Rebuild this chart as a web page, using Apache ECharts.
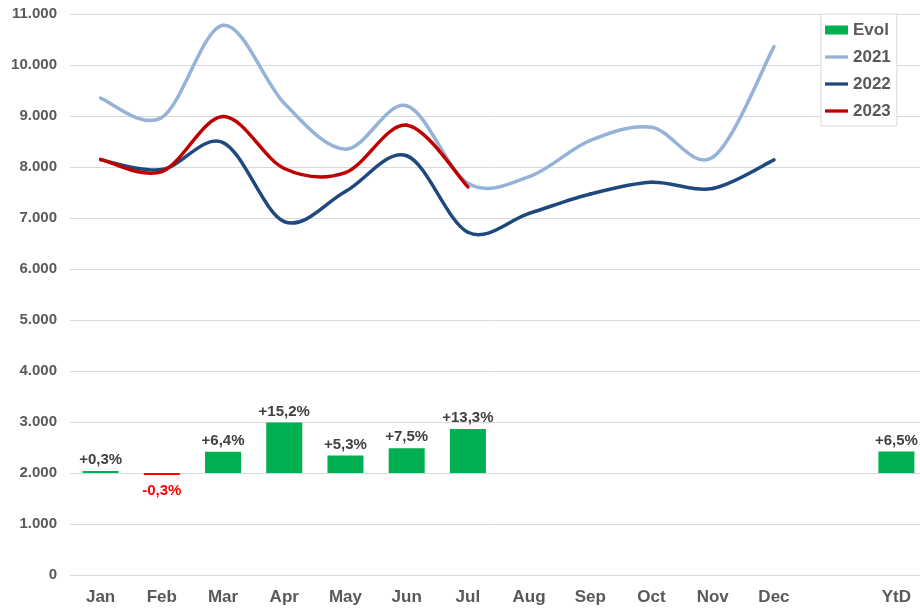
<!DOCTYPE html>
<html>
<head>
<meta charset="utf-8">
<script src="https://cdn.jsdelivr.net/npm/echarts@6/dist/echarts.min.js"></script>
<style>html,body{margin:0;padding:0;background:#fff}#c{width:920px;height:608px}</style>
</head>
<body>
<div id="c"></div>
<script>
var categories = ['Jan','Feb','Mar','Apr','May','Jun','Jul','Aug','Sep','Oct','Nov','Dec','','YtD'];
var values2021 = [9350, 8970, 10780, 9250, 8350, 9200, 7680, 7810, 8520, 8780, 8190, 10360];
var values2022 = [8140, 7950, 8480, 6930, 7520, 8220, 6720, 7090, 7470, 7700, 7580, 8140];
var values2023 = [8150, 7910, 8990, 7970, 7890, 8820, 7610];
// Evol in %, null where no bar; last entry is YtD
var evolPct = [0.3, -0.3, 6.4, 15.2, 5.3, 7.5, 13.3, null, null, null, null, null, null, 6.5];
var evolBase = 2000;     // bars float from this level
var evolScale = 65;      // axis units per percentage point

var FONT = "'Liberation Sans', Arial, sans-serif";
var TXT = '#595959';

var baseData = evolPct.map(function (v) { return v === null ? null : evolBase; });
var evolData = evolPct.map(function (v) {
  if (v === null) return null;
  var neg = v < 0;
  return {
    value: v * evolScale,
    itemStyle: { color: neg ? '#FF0000' : '#00B050' },
    label: {
      position: neg ? 'bottom' : 'top',
      color: neg ? '#FF0000' : '#404040',
      distance: neg ? 8 : 3.5
    }
  };
});
function fmtPct(v) {
  return (v >= 0 ? '+' : '-') + Math.abs(v).toFixed(1).replace('.', ',') + '%';
}

// Smooth line (Excel-like Catmull-Rom) drawn through the chart's own coordinate system
function smoothLineSeries(name, values, color, z) {
  return {
    name: name,
    type: 'custom',
    z: z,
    itemStyle: { color: color },
    encode: { x: 0, y: 1 },
    data: values.map(function (v, i) { return [i, v]; }),
    renderItem: function (params, api) {
      if (params.dataIndex !== 0) return null;
      var pts = values.map(function (v, i) { return api.coord([i, v]); });
      var children = [];
      for (var i = 0; i < pts.length - 1; i++) {
        var p0 = pts[i - 1] || pts[i];
        var p1 = pts[i];
        var p2 = pts[i + 1];
        var p3 = pts[i + 2] || pts[i + 1];
        children.push({
          type: 'bezierCurve',
          shape: {
            x1: p1[0], y1: p1[1],
            cpx1: p1[0] + (p2[0] - p0[0]) / 6, cpy1: p1[1] + (p2[1] - p0[1]) / 6,
            cpx2: p2[0] - (p3[0] - p1[0]) / 6, cpy2: p2[1] - (p3[1] - p1[1]) / 6,
            x2: p2[0], y2: p2[1]
          },
          style: { stroke: color, lineWidth: 3.5, fill: null, lineCap: 'round' },
          silent: true
        });
      }
      return { type: 'group', children: children };
    }
  };
}

var lineIcon = 'path://M0,0 H28 V4 H0 Z';

var chart = echarts.init(document.getElementById('c'), null, { renderer: 'canvas' });
chart.setOption({
  animation: false,
  textStyle: { fontFamily: FONT },
  grid: { left: 70, width: 857, top: 14, bottom: 33, containLabel: false, outerBoundsMode: 'none' },
  legend: {
    orient: 'vertical',
    left: 821, top: 14,
    padding: [7, 6, 6, 4],
    borderColor: '#d9d9d9', borderWidth: 1,
    backgroundColor: '#fff',
    itemWidth: 23, itemHeight: 9, itemGap: 9,
    textStyle: { fontFamily: FONT, fontSize: 17, fontWeight: 'bold', color: TXT, lineHeight: 18 },
    data: [
      { name: 'Evol', icon: 'rect' },
      { name: '2021', icon: lineIcon },
      { name: '2022', icon: lineIcon },
      { name: '2023', icon: lineIcon }
    ]
  },
  xAxis: {
    type: 'category',
    data: categories,
    boundaryGap: true,
    axisTick: { show: false },
    axisLine: { lineStyle: { color: '#d9d9d9', width: 1 } },
    axisLabel: { interval: 0, margin: 14, fontFamily: FONT, fontSize: 17, fontWeight: 'bold', color: TXT }
  },
  yAxis: {
    type: 'value',
    min: 0, max: 11000, interval: 1000,
    axisLine: { show: false },
    axisTick: { show: false },
    splitLine: { lineStyle: { color: '#d9d9d9', width: 1 } },
    axisLabel: {
      margin: 13, fontFamily: FONT, fontSize: 15, fontWeight: 'bold', color: TXT,
      formatter: function (v) { return String(v).replace(/\B(?=(\d{3})+(?!\d))/g, '.'); }
    }
  },
  series: [
    {
      name: 'base', type: 'bar', stack: 'evol', stackStrategy: 'all',
      data: baseData, barWidth: 36, silent: true,
      itemStyle: { color: 'rgba(0,0,0,0)' }, legendHoverLink: false
    },
    {
      name: 'Evol', type: 'bar', stack: 'evol', stackStrategy: 'all',
      data: evolData, barWidth: 36, barMinHeight: 2,
      itemStyle: { color: '#00B050' },
      label: {
        show: true, fontFamily: FONT, fontSize: 15, fontWeight: 'bold',
        formatter: function (p) { return fmtPct(evolPct[p.dataIndex]); }
      }
    },
    smoothLineSeries('2021', values2021, '#95B3D7', 3),
    smoothLineSeries('2022', values2022, '#1F497D', 4),
    smoothLineSeries('2023', values2023, '#C00000', 5)
  ]
});
</script>
</body>
</html>
